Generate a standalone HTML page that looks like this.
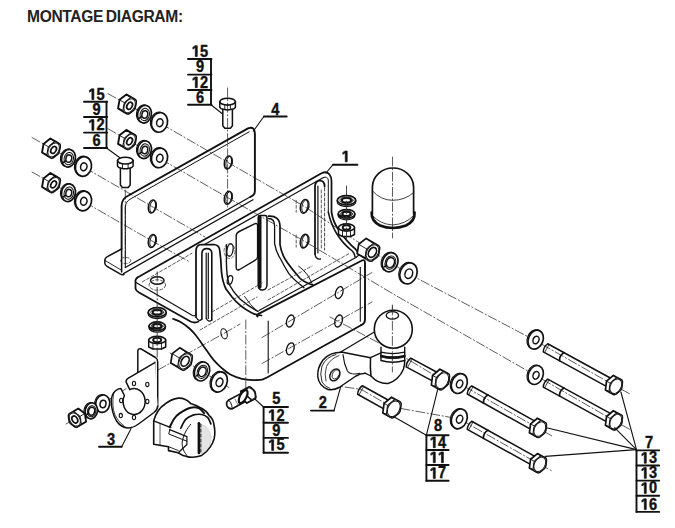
<!DOCTYPE html>
<html><head><meta charset="utf-8"><style>
html,body{margin:0;padding:0;background:#fff;}
body{width:675px;height:528px;overflow:hidden;position:relative;}
svg{position:absolute;left:0;top:0;}
svg text{font-family:"Liberation Sans",sans-serif;font-weight:bold;fill:#111;stroke:none;}
svg line,svg polyline,svg polygon,svg path,svg ellipse,svg circle{stroke:#111;stroke-linecap:round;stroke-linejoin:round;}
.dd{stroke:#333;stroke-dasharray:9 2.5 1.2 2.5;}
.hd{stroke:#333;stroke-dasharray:3 2;}
</style></head><body>
<svg width="675" height="528" viewBox="0 0 675 528">
<text x="27" y="22.1" font-size="15.6" style="fill:#222;letter-spacing:-0.35px;word-spacing:-1.2px">MONTAGE DIAGRAM:</text>
<polyline points="108,93.7 127.2,104.2 228,162.5 304.2,206.3 372.4,251.5 408.8,273.9 535.4,340.6 613.5,385 630,394" stroke-width="0.8" fill="none" class="dd"/>
<polyline points="108,128.8 127.2,139.7 228,197.8 304.2,241.1 395,295 535.7,375.5 613.5,420.3 630,429.5" stroke-width="0.8" fill="none" class="dd"/>
<polyline points="32,137.5 51.2,148.3 152,206.5 205,237" stroke-width="0.8" fill="none" class="dd"/>
<polyline points="32,172 51.2,182.8 152,241 190,262" stroke-width="0.8" fill="none" class="dd"/>
<polyline points="330,317 393,350.5 439.5,378.3 459.3,383.6 537.5,427.8 552,436" stroke-width="0.8" fill="none" class="dd"/>
<polyline points="330,385 361,389.3 391.3,406.8 459.3,418.9 537.5,463.1 552,471" stroke-width="0.8" fill="none" class="dd"/>
<polyline points="66,424 76.3,418 103,403.3 138.8,380.6 164.3,366.5 224,333.4 240,324" stroke-width="0.8" fill="none" class="dd"/>
<polyline points="170,353 185.1,361.3 219.2,381.8 229,387.5" stroke-width="0.8" fill="none" class="dd"/>
<polyline points="227.6,88 227.6,207" stroke-width="0.8" fill="none" class="dd"/>
<polyline points="125.3,190 125.3,265" stroke-width="0.8" fill="none" class="dd"/>
<polyline points="392.5,157 392.5,238" stroke-width="0.8" fill="none" class="dd"/>
<polyline points="392.4,305 392.4,372" stroke-width="0.8" fill="none" class="dd"/>
<polyline points="245.8,320 245.8,388" stroke-width="0.8" fill="none" class="dd"/>
<polyline points="262,337.5 372,272.5" stroke-width="0.8" fill="none" class="dd"/>
<polyline points="262,363.5 372,302" stroke-width="0.8" fill="none" class="dd"/>
<polygon points="118.05,108.41 119.53,99.83 126.35,94.41 134.73,99.38 135.25,99.69 135.69,100.13 135.94,100.76 136.12,101.45 136.1,102.26 135.95,103.09 135.68,104.67 135.26,107.09 135,107.94 134.56,108.74 134.07,109.51 133.45,110.15 131.53,111.67 130.27,112.67 129.61,113.2 128.91,113.61 128.22,113.78 127.54,113.87 126.95,113.69 125.93,113.09 123.39,111.58" stroke-width="1.9" fill="#fff"/>
<line x1="123.39" y1="111.58" x2="128.22" y2="113.78" stroke-width="0.9"/>
<line x1="130.21" y1="106.16" x2="134.56" y2="108.74" stroke-width="0.9"/>
<line x1="131.69" y1="97.57" x2="135.94" y2="100.76" stroke-width="0.9"/>
<line x1="126.35" y1="94.41" x2="130.98" y2="97.82" stroke-width="0.9"/>
<line x1="119.53" y1="99.83" x2="124.64" y2="102.86" stroke-width="0.9"/>
<line x1="118.05" y1="108.41" x2="123.26" y2="110.84" stroke-width="0.9"/>
<polygon points="125.45,112.8 125.93,113.09 126.43,113.38 126.95,113.69 127.54,113.87 128.22,113.78 128.91,113.61 129.61,113.2 130.27,112.67 130.91,112.17 131.53,111.67 132.15,111.18 132.78,110.68 133.45,110.15 134.07,109.51 134.56,108.74 135,107.94 135.26,107.09 135.41,106.25 135.54,105.45 135.68,104.67 135.81,103.89 135.95,103.09 136.1,102.26 136.12,101.45 135.94,100.76 135.69,100.13 135.25,99.69 134.73,99.38 134.24,99.09 133.75,98.8 133.27,98.51 132.77,98.22 132.25,97.91 131.66,97.73 130.98,97.82 130.29,97.99 129.59,98.4 128.93,98.93 128.29,99.43 127.67,99.93 127.05,100.42 126.42,100.92 125.75,101.45 125.13,102.09 124.64,102.86 124.2,103.66 123.94,104.51 123.79,105.35 123.66,106.15 123.52,106.93 123.39,107.71 123.25,108.51 123.1,109.34 123.08,110.15 123.26,110.84 123.51,111.47 123.95,111.91 124.47,112.22 124.96,112.51" stroke-width="1.1" fill="#fff"/>
<ellipse cx="129.6" cy="105.8" rx="4.96" ry="7.52" transform="rotate(30.67 129.6 105.8)" stroke-width="0.9" fill="none"/>
<ellipse cx="129.6" cy="105.8" rx="2.48" ry="3.76" transform="rotate(30.67 129.6 105.8)" stroke-width="1.7" fill="none"/>
<ellipse cx="143.4" cy="113.7" rx="6.9" ry="8.9" stroke-width="1.1" fill="#fff" transform="rotate(12 143.4 113.7)"/>
<ellipse cx="144.5" cy="114.2" rx="6.9" ry="8.9" stroke-width="1.7" fill="#fff" transform="rotate(12 144.5 114.2)"/>
<ellipse cx="144.8" cy="114.5" rx="2.9" ry="3.74" stroke-width="1.5" fill="none" transform="rotate(12 144.8 114.5)"/>
<ellipse cx="144.8" cy="114.5" rx="4.69" ry="6.23" stroke-width="1.0" fill="none" transform="rotate(12 144.8 114.5)"/>
<line x1="139.32" y1="118.2" x2="141.4" y2="116.87" stroke-width="1.6"/>
<ellipse cx="158.4" cy="121.9" rx="8" ry="9.9" stroke-width="1.1" fill="#fff" transform="rotate(12 158.4 121.9)"/>
<ellipse cx="159.5" cy="122.4" rx="8" ry="9.9" stroke-width="1.7" fill="#fff" transform="rotate(12 159.5 122.4)"/>
<ellipse cx="159.8" cy="122.7" rx="3.2" ry="3.96" stroke-width="1.5" fill="none" transform="rotate(12 159.8 122.7)"/>
<polygon points="118.05,143.91 119.53,135.33 126.35,129.91 131.69,133.07 134.73,134.88 135.25,135.19 135.69,135.63 135.94,136.26 136.12,136.95 136.1,137.76 135.95,138.59 135.68,140.17 135.26,142.59 135,143.44 134.56,144.24 134.07,145.01 133.45,145.65 132.15,146.68 130.91,147.67 129.61,148.7 128.91,149.11 128.22,149.28 127.54,149.37 126.95,149.19 125.93,148.59 123.95,147.41" stroke-width="1.9" fill="#fff"/>
<line x1="123.39" y1="147.08" x2="128.22" y2="149.28" stroke-width="0.9"/>
<line x1="130.21" y1="141.66" x2="134.56" y2="144.24" stroke-width="0.9"/>
<line x1="131.69" y1="133.07" x2="135.94" y2="136.26" stroke-width="0.9"/>
<line x1="126.35" y1="129.91" x2="130.98" y2="133.32" stroke-width="0.9"/>
<line x1="119.53" y1="135.33" x2="124.64" y2="138.36" stroke-width="0.9"/>
<line x1="118.05" y1="143.91" x2="123.26" y2="146.34" stroke-width="0.9"/>
<polygon points="125.45,148.3 125.93,148.59 126.43,148.88 126.95,149.19 127.54,149.37 128.22,149.28 128.91,149.11 129.61,148.7 130.27,148.17 130.91,147.67 131.53,147.17 132.15,146.68 132.78,146.18 133.45,145.65 134.07,145.01 134.56,144.24 135,143.44 135.26,142.59 135.41,141.75 135.54,140.95 135.68,140.17 135.81,139.39 135.95,138.59 136.1,137.76 136.12,136.95 135.94,136.26 135.69,135.63 135.25,135.19 134.73,134.88 134.24,134.59 133.75,134.3 133.27,134.01 132.77,133.72 132.25,133.41 131.66,133.23 130.98,133.32 130.29,133.49 129.59,133.9 128.93,134.43 128.29,134.93 127.67,135.43 127.05,135.92 126.42,136.42 125.75,136.95 125.13,137.59 124.64,138.36 124.2,139.16 123.94,140.01 123.79,140.85 123.66,141.65 123.52,142.43 123.39,143.21 123.25,144.01 123.1,144.84 123.08,145.65 123.26,146.34 123.51,146.97 123.95,147.41 124.47,147.72 124.96,148.01" stroke-width="1.1" fill="#fff"/>
<ellipse cx="129.6" cy="141.3" rx="4.96" ry="7.52" transform="rotate(30.67 129.6 141.3)" stroke-width="0.9" fill="none"/>
<ellipse cx="129.6" cy="141.3" rx="2.48" ry="3.76" transform="rotate(30.67 129.6 141.3)" stroke-width="1.7" fill="none"/>
<ellipse cx="143.4" cy="149.2" rx="6.9" ry="8.9" stroke-width="1.1" fill="#fff" transform="rotate(12 143.4 149.2)"/>
<ellipse cx="144.5" cy="149.7" rx="6.9" ry="8.9" stroke-width="1.7" fill="#fff" transform="rotate(12 144.5 149.7)"/>
<ellipse cx="144.8" cy="150" rx="2.9" ry="3.74" stroke-width="1.5" fill="none" transform="rotate(12 144.8 150)"/>
<ellipse cx="144.8" cy="150" rx="4.69" ry="6.23" stroke-width="1.0" fill="none" transform="rotate(12 144.8 150)"/>
<line x1="139.32" y1="153.7" x2="141.4" y2="152.37" stroke-width="1.6"/>
<ellipse cx="158.4" cy="157.4" rx="8" ry="9.9" stroke-width="1.1" fill="#fff" transform="rotate(12 158.4 157.4)"/>
<ellipse cx="159.5" cy="157.9" rx="8" ry="9.9" stroke-width="1.7" fill="#fff" transform="rotate(12 159.5 157.9)"/>
<ellipse cx="159.8" cy="158.2" rx="3.2" ry="3.96" stroke-width="1.5" fill="none" transform="rotate(12 159.8 158.2)"/>
<polygon points="42.05,152.51 43.53,143.93 50.35,138.51 55.69,141.67 59.25,143.79 59.69,144.23 59.94,144.86 60.12,145.55 60.1,146.36 59.95,147.19 59.54,149.55 59.26,151.19 59,152.04 58.56,152.84 58.07,153.61 57.45,154.25 56.15,155.28 54.91,156.27 53.61,157.3 52.91,157.71 52.22,157.88 51.54,157.97 50.95,157.79 49.93,157.19 48.47,156.32" stroke-width="1.9" fill="#fff"/>
<line x1="47.39" y1="155.68" x2="52.22" y2="157.88" stroke-width="0.9"/>
<line x1="54.21" y1="150.26" x2="58.56" y2="152.84" stroke-width="0.9"/>
<line x1="55.69" y1="141.67" x2="59.94" y2="144.86" stroke-width="0.9"/>
<line x1="50.35" y1="138.51" x2="54.98" y2="141.92" stroke-width="0.9"/>
<line x1="43.53" y1="143.93" x2="48.64" y2="146.96" stroke-width="0.9"/>
<line x1="42.05" y1="152.51" x2="47.26" y2="154.94" stroke-width="0.9"/>
<polygon points="49.45,156.9 49.93,157.19 50.43,157.48 50.95,157.79 51.54,157.97 52.22,157.88 52.91,157.71 53.61,157.3 54.27,156.77 54.91,156.27 55.53,155.77 56.15,155.28 56.78,154.78 57.45,154.25 58.07,153.61 58.56,152.84 59,152.04 59.26,151.19 59.41,150.35 59.54,149.55 59.68,148.77 59.81,147.99 59.95,147.19 60.1,146.36 60.12,145.55 59.94,144.86 59.69,144.23 59.25,143.79 58.73,143.48 58.24,143.19 57.75,142.9 57.27,142.61 56.77,142.32 56.25,142.01 55.66,141.83 54.98,141.92 54.29,142.09 53.59,142.5 52.93,143.03 52.29,143.53 51.67,144.03 51.05,144.52 50.42,145.02 49.75,145.55 49.13,146.19 48.64,146.96 48.2,147.76 47.94,148.61 47.79,149.45 47.66,150.25 47.52,151.03 47.39,151.81 47.25,152.61 47.1,153.44 47.08,154.25 47.26,154.94 47.51,155.57 47.95,156.01 48.47,156.32 48.96,156.61" stroke-width="1.1" fill="#fff"/>
<ellipse cx="53.6" cy="149.9" rx="4.96" ry="7.52" transform="rotate(30.67 53.6 149.9)" stroke-width="0.9" fill="none"/>
<ellipse cx="53.6" cy="149.9" rx="2.48" ry="3.76" transform="rotate(30.67 53.6 149.9)" stroke-width="1.7" fill="none"/>
<ellipse cx="67.4" cy="157.8" rx="6.9" ry="8.9" stroke-width="1.1" fill="#fff" transform="rotate(12 67.4 157.8)"/>
<ellipse cx="68.5" cy="158.3" rx="6.9" ry="8.9" stroke-width="1.7" fill="#fff" transform="rotate(12 68.5 158.3)"/>
<ellipse cx="68.8" cy="158.6" rx="2.9" ry="3.74" stroke-width="1.5" fill="none" transform="rotate(12 68.8 158.6)"/>
<ellipse cx="68.8" cy="158.6" rx="4.69" ry="6.23" stroke-width="1.0" fill="none" transform="rotate(12 68.8 158.6)"/>
<line x1="63.33" y1="162.31" x2="65.39" y2="160.97" stroke-width="1.6"/>
<ellipse cx="82.4" cy="166" rx="8" ry="9.9" stroke-width="1.1" fill="#fff" transform="rotate(12 82.4 166)"/>
<ellipse cx="83.5" cy="166.5" rx="8" ry="9.9" stroke-width="1.7" fill="#fff" transform="rotate(12 83.5 166.5)"/>
<ellipse cx="83.8" cy="166.8" rx="3.2" ry="3.96" stroke-width="1.5" fill="none" transform="rotate(12 83.8 166.8)"/>
<polygon points="42.05,187.01 43.53,178.43 50.35,173.01 55.69,176.17 59.25,178.29 59.69,178.73 59.94,179.36 60.12,180.05 60.1,180.86 59.95,181.69 59.54,184.05 59.26,185.69 59,186.54 58.56,187.34 58.07,188.11 57.45,188.75 56.15,189.78 54.91,190.77 53.61,191.8 52.91,192.21 52.22,192.38 51.54,192.47 50.95,192.29 49.93,191.69 48.47,190.82" stroke-width="1.9" fill="#fff"/>
<line x1="47.39" y1="190.18" x2="52.22" y2="192.38" stroke-width="0.9"/>
<line x1="54.21" y1="184.76" x2="58.56" y2="187.34" stroke-width="0.9"/>
<line x1="55.69" y1="176.17" x2="59.94" y2="179.36" stroke-width="0.9"/>
<line x1="50.35" y1="173.01" x2="54.98" y2="176.42" stroke-width="0.9"/>
<line x1="43.53" y1="178.43" x2="48.64" y2="181.46" stroke-width="0.9"/>
<line x1="42.05" y1="187.01" x2="47.26" y2="189.44" stroke-width="0.9"/>
<polygon points="49.45,191.4 49.93,191.69 50.43,191.98 50.95,192.29 51.54,192.47 52.22,192.38 52.91,192.21 53.61,191.8 54.27,191.27 54.91,190.77 55.53,190.27 56.15,189.78 56.78,189.28 57.45,188.75 58.07,188.11 58.56,187.34 59,186.54 59.26,185.69 59.41,184.85 59.54,184.05 59.68,183.27 59.81,182.49 59.95,181.69 60.1,180.86 60.12,180.05 59.94,179.36 59.69,178.73 59.25,178.29 58.73,177.98 58.24,177.69 57.75,177.4 57.27,177.11 56.77,176.82 56.25,176.51 55.66,176.33 54.98,176.42 54.29,176.59 53.59,177 52.93,177.53 52.29,178.03 51.67,178.53 51.05,179.02 50.42,179.52 49.75,180.05 49.13,180.69 48.64,181.46 48.2,182.26 47.94,183.11 47.79,183.95 47.66,184.75 47.52,185.53 47.39,186.31 47.25,187.11 47.1,187.94 47.08,188.75 47.26,189.44 47.51,190.07 47.95,190.51 48.47,190.82 48.96,191.11" stroke-width="1.1" fill="#fff"/>
<ellipse cx="53.6" cy="184.4" rx="4.96" ry="7.52" transform="rotate(30.67 53.6 184.4)" stroke-width="0.9" fill="none"/>
<ellipse cx="53.6" cy="184.4" rx="2.48" ry="3.76" transform="rotate(30.67 53.6 184.4)" stroke-width="1.7" fill="none"/>
<ellipse cx="67.4" cy="192.3" rx="6.9" ry="8.9" stroke-width="1.1" fill="#fff" transform="rotate(12 67.4 192.3)"/>
<ellipse cx="68.5" cy="192.8" rx="6.9" ry="8.9" stroke-width="1.7" fill="#fff" transform="rotate(12 68.5 192.8)"/>
<ellipse cx="68.8" cy="193.1" rx="2.9" ry="3.74" stroke-width="1.5" fill="none" transform="rotate(12 68.8 193.1)"/>
<ellipse cx="68.8" cy="193.1" rx="4.69" ry="6.23" stroke-width="1.0" fill="none" transform="rotate(12 68.8 193.1)"/>
<line x1="63.33" y1="196.81" x2="65.39" y2="195.47" stroke-width="1.6"/>
<ellipse cx="82.4" cy="200.5" rx="8" ry="9.9" stroke-width="1.1" fill="#fff" transform="rotate(12 82.4 200.5)"/>
<ellipse cx="83.5" cy="201" rx="8" ry="9.9" stroke-width="1.7" fill="#fff" transform="rotate(12 83.5 201)"/>
<ellipse cx="83.8" cy="201.3" rx="3.2" ry="3.96" stroke-width="1.5" fill="none" transform="rotate(12 83.8 201.3)"/>
<ellipse cx="125.3" cy="160.6" rx="7.8" ry="3.4" stroke-width="1.6" fill="none"/>
<path d="M117.5,160.6 L117.5,166.2 Q118.5,168.2 121.5,168.2 Q125.3,169.4 129.1,168.2 Q132.1,168.2 133.1,166.2 L133.1,160.6" stroke-width="1.5" fill="none"/>
<line x1="122.5" y1="163.8" x2="122.5" y2="168.2" stroke-width="0.9"/>
<line x1="128.1" y1="163.8" x2="128.1" y2="168.2" stroke-width="0.9"/>
<path d="M120.4,168.5 L120.4,185 L122.4,187.5 L128.2,187.5 L130.2,185 L130.2,168.5" stroke-width="1.5" fill="none"/>
<ellipse cx="227.6" cy="101.7" rx="7.8" ry="3.4" stroke-width="1.6" fill="none"/>
<path d="M219.8,101.7 L219.8,107.3 Q220.8,109.3 223.8,109.3 Q227.6,110.5 231.4,109.3 Q234.4,109.3 235.4,107.3 L235.4,101.7" stroke-width="1.5" fill="none"/>
<line x1="224.8" y1="104.9" x2="224.8" y2="109.3" stroke-width="0.9"/>
<line x1="230.4" y1="104.9" x2="230.4" y2="109.3" stroke-width="0.9"/>
<path d="M222.8,109.6 L222.8,125.7 L224.8,128.2 L230.4,128.2 L232.4,125.7 L232.4,109.6" stroke-width="1.5" fill="none"/>
<path d="M121.6,249 L121.6,206 Q121.6,198.5 128.5,195.5 L248,128.3 Q254.9,126 254.9,133.5 L254.9,191 Q254.9,195 250.5,196.8" stroke-width="1.9" fill="none"/>
<path d="M125.3,267.5 L125.3,207.5 Q125.3,201.5 131,198.7 L249.2,131.8" stroke-width="1.0" fill="none"/>
<line x1="250.5" y1="196.8" x2="125.3" y2="267.5" stroke-width="1.3"/>
<line x1="253" y1="199.8" x2="123.5" y2="273.6" stroke-width="1.3"/>
<path d="M121.6,249 L107,256.8 Q104.8,258 104.8,260.5 L104.8,263 Q104.8,265 107,266.3 L120.5,274.2 Q122.5,275.2 124,274.3" stroke-width="1.5" fill="none"/>
<line x1="104.8" y1="260.3" x2="121.6" y2="270.3" stroke-width="0.9"/>
<line x1="121.6" y1="249" x2="121.6" y2="272" stroke-width="1.5"/>
<ellipse cx="125.6" cy="260.5" rx="5.2" ry="3.2" stroke-width="0.8" fill="none" class="hd"/>
<ellipse cx="152" cy="206.5" rx="3.6" ry="6.6" stroke-width="1.4" fill="none" transform="rotate(12 152 206.5)"/>
<ellipse cx="153.2" cy="206.5" rx="3.2" ry="6.3" stroke-width="0.9" fill="none" transform="rotate(12 153.2 206.5)"/>
<ellipse cx="152" cy="241" rx="3.6" ry="6.6" stroke-width="1.4" fill="none" transform="rotate(12 152 241)"/>
<ellipse cx="153.2" cy="241" rx="3.2" ry="6.3" stroke-width="0.9" fill="none" transform="rotate(12 153.2 241)"/>
<ellipse cx="228" cy="162.5" rx="3.6" ry="6.6" stroke-width="1.4" fill="none" transform="rotate(12 228 162.5)"/>
<ellipse cx="229.2" cy="162.5" rx="3.2" ry="6.3" stroke-width="0.9" fill="none" transform="rotate(12 229.2 162.5)"/>
<ellipse cx="228" cy="197.8" rx="3.6" ry="6.6" stroke-width="1.4" fill="none" transform="rotate(12 228 197.8)"/>
<ellipse cx="229.2" cy="197.8" rx="3.2" ry="6.3" stroke-width="0.9" fill="none" transform="rotate(12 229.2 197.8)"/>
<path d="M137.5,277.5 L321.5,173.2 Q327,170.8 329.5,174.5 Q331.5,177 331.5,181 L331.5,212 Q333,222 338.7,230 Q347,242 355.4,249 Q358,252 359.6,255" stroke-width="1.75" fill="none"/>
<line x1="205" y1="244.2" x2="323.5" y2="177.5" stroke-width="1.2"/>
<path d="M323.5,177.5 Q327.5,176 328.3,180 L328.3,212" stroke-width="1.0" fill="none"/>
<path d="M137.5,277.5 Q134.8,279.5 135.5,282.5 L135.5,288.5 Q136,291 139,292.5 L190.5,321.5 Q195,323.5 198.5,321.5" stroke-width="1.75" fill="none"/>
<path d="M136,282.5 L192.5,315.5 Q195.5,317 196,313" stroke-width="1.2" fill="none"/>
<ellipse cx="157.3" cy="280.5" rx="6.8" ry="3.7" stroke-width="1.4" fill="none"/>
<ellipse cx="157.3" cy="285" rx="8.2" ry="5.2" stroke-width="0.8" fill="none" class="hd"/>
<path d="M196,317 L196,251 Q196,244.8 201.5,244.5 L214,244.5 Q219.6,245 219.8,251 L220.7,259 L221.5,272 Q222.5,282 226,289 L232,297 Q240,307 252,313 Q256,315 261.5,315.5" stroke-width="1.75" fill="none"/>
<path d="M201.9,319 L201.9,253.5 Q201.9,248.6 206.8,248.6 Q211.8,248.6 211.8,253.5 L211.8,320" stroke-width="1.6" fill="none"/>
<line x1="206.2" y1="253" x2="206.2" y2="318.5" stroke-width="1.2"/>
<line x1="208.3" y1="253" x2="208.3" y2="318.5" stroke-width="1.2"/>
<path d="M206.2,318.5 Q209,323 211.8,320" stroke-width="1.2" fill="none"/>
<path d="M196,317 Q199,322.5 201.9,319" stroke-width="1.3" fill="none"/>
<path d="M226.4,244.8 L226.4,262 Q226.6,276 229,284 Q233,292 240,299 Q248,306 258,311.5" stroke-width="1.4" fill="none"/>
<path d="M244.5,296.4 Q250,305 258,311.8" stroke-width="0.9" fill="none"/>
<ellipse cx="230" cy="250" rx="3" ry="6.3" stroke-width="1.3" fill="none" transform="rotate(10 230 250)"/>
<ellipse cx="229.5" cy="251" rx="5.5" ry="7.5" stroke-width="0.7" fill="none" class="hd"/>
<ellipse cx="229.9" cy="280" rx="2.6" ry="4.5" stroke-width="1.2" fill="none" transform="rotate(15 229.9 280)"/>
<path d="M236.2,236 Q236.2,233 239.2,231.5 L254.5,223.8 Q257.6,222.6 257.6,226 L257.6,257 Q257.6,259 255,260.3 L239.5,269.5 Q236.2,271 236.2,267.5 Z" stroke-width="1.4" fill="none"/>
<path d="M258.2,285 L258.2,218 Q258.2,215.6 260.5,215.6 L265,215.6 Q267,215.6 267,218 L267,285 Q266.5,290 262.5,290 Q258.2,290 258.2,285" stroke-width="1.5" fill="none"/>
<line x1="259.9" y1="217" x2="259.9" y2="287" stroke-width="3.2"/>
<path d="M268.5,216.2 Q279.7,215.5 280,226 L280,244.5 Q281,252 285,259 Q290,267 300.4,278.7 Q305,283 313,285" stroke-width="1.7" fill="none"/>
<path d="M268.5,218.5 Q274.6,218.5 274.6,226 L274.6,243.7 Q276,252 280.6,259 Q284,266 288.7,273.3 Q293,279 304,287.7" stroke-width="1.3" fill="none"/>
<path d="M298.6,266.1 Q304,270 307.6,275.1 Q310,279 312,283.2" stroke-width="1.0" fill="none"/>
<path d="M315,254 L315,187 Q315,180.5 320,180.5 Q324.6,180.5 324.6,186.5" stroke-width="1.75" fill="none"/>
<line x1="317.9" y1="186" x2="317.9" y2="253" stroke-width="1.2"/>
<path d="M315,254 Q315.5,259.5 320.5,259" stroke-width="1.3" fill="none"/>
<line x1="321.3" y1="190" x2="321.3" y2="250" stroke-width="0.8" class="hd"/>
<line x1="324.6" y1="188" x2="324.6" y2="250" stroke-width="0.9" class="hd"/>
<path d="M328.3,212 Q330.5,223 336.3,233 Q343,244 352.3,251 Q354.5,253 355,257" stroke-width="1.5" fill="none"/>
<path d="M257.5,316.5 Q256,315 258.5,313.8 L361,261 Q365,258.5 365,263 L365,319.5 Q365,323.5 361,325.2" stroke-width="1.9" fill="none"/>
<line x1="259" y1="310.5" x2="356.3" y2="257.2" stroke-width="1.2"/>
<path d="M356.3,257.2 Q358.5,255.5 359.6,253.5" stroke-width="1.2" fill="none"/>
<line x1="360.3" y1="267.2" x2="360.3" y2="321.2" stroke-width="1.1"/>
<path d="M361,325.2 L266.5,377.8 Q262,380.5 256.5,380.2" stroke-width="1.75" fill="none"/>
<path d="M173,318.8 C174.33,319.38 178.17,320.6 181,322.3 C183.83,324 187.47,326.75 190,329 C192.53,331.25 193.75,332.68 196.2,335.8 C198.65,338.92 201.85,343.73 204.7,347.7 C207.55,351.67 210.45,356.2 213.3,359.6 C216.15,363 218.97,365.62 221.8,368.1 C224.63,370.58 226.93,372.72 230.3,374.5 C233.67,376.28 237.63,377.85 242,378.8 C246.37,379.75 254.08,379.97 256.5,380.2" stroke-width="1.75" fill="none"/>
<line x1="268.2" y1="321" x2="268.2" y2="373" stroke-width="1.1"/>
<ellipse cx="339.2" cy="292.6" rx="3.6" ry="6.2" stroke-width="1.3" fill="none" transform="rotate(18 339.2 292.6)"/>
<ellipse cx="290.3" cy="321" rx="3.6" ry="6.2" stroke-width="1.3" fill="none" transform="rotate(18 290.3 321)"/>
<ellipse cx="338.6" cy="321" rx="3.6" ry="6.2" stroke-width="1.3" fill="none" transform="rotate(18 338.6 321)"/>
<ellipse cx="290.3" cy="348.8" rx="3.6" ry="6.2" stroke-width="1.3" fill="none" transform="rotate(18 290.3 348.8)"/>
<ellipse cx="224.1" cy="333.8" rx="3" ry="5.2" stroke-width="1.1" fill="none" transform="rotate(-15 224.1 333.8)"/>
<ellipse cx="304.2" cy="206.3" rx="3.8" ry="7" stroke-width="1.4" fill="none" transform="rotate(12 304.2 206.3)"/>
<ellipse cx="305.5" cy="206.3" rx="3.5" ry="6.7" stroke-width="0.9" fill="none" transform="rotate(12 305.5 206.3)"/>
<path d="M296.2,200.3 L296.2,212.3" stroke-width="0.8" fill="none" class="hd"/>
<ellipse cx="304.2" cy="241.1" rx="3.8" ry="7" stroke-width="1.4" fill="none" transform="rotate(12 304.2 241.1)"/>
<ellipse cx="305.5" cy="241.1" rx="3.5" ry="6.7" stroke-width="0.9" fill="none" transform="rotate(12 305.5 241.1)"/>
<path d="M296.2,235.1 L296.2,247.1" stroke-width="0.8" fill="none" class="hd"/>
<line x1="142.4" y1="281.9" x2="192" y2="253.2" stroke-width="0.8" class="hd"/>
<line x1="200" y1="330" x2="257" y2="297" stroke-width="0.8" class="hd"/>
<line x1="212" y1="312" x2="262" y2="283" stroke-width="0.8" class="hd"/>
<line x1="268" y1="290" x2="312" y2="266" stroke-width="0.8" class="hd"/>
<line x1="268" y1="300" x2="350" y2="253" stroke-width="0.8" class="hd"/>
<line x1="339.4" y1="352.7" x2="376" y2="331" stroke-width="1.3"/>
<path d="M342.5,352.3 Q330,352 323,360 Q317,368 317.8,377 Q319,386 328,389.5 Q334,390.5 339,387.5 L356,376 Q360,373.5 365,373.2" stroke-width="1.5" fill="#fff"/>
<path d="M336,354.5 Q326,357 322,366 Q319.5,374 322,382 Q325,387 330,388.5" stroke-width="0.9" fill="none"/>
<path d="M339,355.5 Q330,359 326.5,366.5 Q324,374 326,381" stroke-width="0.8" fill="none"/>
<path d="M343,354.6 Q344,364 347.4,371 Q351,375.5 359.9,373.3" stroke-width="1.1" fill="none"/>
<ellipse cx="334.9" cy="374.9" rx="4.6" ry="6.4" stroke-width="1.4" fill="none" transform="rotate(30 334.9 374.9)"/>
<ellipse cx="335.8" cy="374.4" rx="3.2" ry="5" stroke-width="0.8" fill="none" transform="rotate(30 335.8 374.4)"/>
<path d="M342.5,352.3 L370.5,357.7" stroke-width="1.6" fill="none"/>
<path d="M370.5,357.7 Q370,368 371,376 Q378,384 388,383.5 Q399,380 403.5,369 Q405,364 404.7,360" stroke-width="1.5" fill="#fff"/>
<line x1="365" y1="373.2" x2="371" y2="376" stroke-width="1.3"/>
<path d="M381,347.3 L381,360.5 Q392.5,364 404.7,360.5 L404.7,347.3" stroke-width="1.4" fill="#fff"/>
<path d="M381,352.1 Q392.5,355 404.7,352.1" stroke-width="1.3" fill="none"/>
<path d="M381,355.9 Q392.5,359 404.7,355.9" stroke-width="2.2" fill="none"/>
<path d="M381,357 Q392.5,360.5 404.7,357" stroke-width="0.9" fill="none"/>
<line x1="370.5" y1="357.7" x2="381" y2="352.8" stroke-width="1.4"/>
<circle cx="393.3" cy="329.2" r="19" stroke-width="1.6" fill="#fff"/>
<ellipse cx="392.4" cy="315.4" rx="6.2" ry="3.7" stroke-width="1.3" fill="none"/>
<polyline points="392.4,306 392.4,372" stroke-width="0.8" fill="none" class="dd"/>
<circle cx="392.4" cy="357.5" r="1.3" fill="#111" style="stroke:none"/>
<path d="M372.4,214 L372.4,187 A20.6,19 0 0 1 413.6,187 L413.6,214" stroke-width="1.7" fill="none"/>
<path d="M372.4,190.9 Q381,200.3 392.5,200.3 Q405,200.3 413.6,192.6" stroke-width="0.8" fill="none"/>
<path d="M371.6,212.5 Q371.2,221 380,225.5 Q392.5,230.5 406,225.5 Q415.2,221 414.6,212.5" stroke-width="2.6" fill="none"/>
<path d="M373,216 Q380,224 392.5,225 Q406,224 413,216" stroke-width="0.8" fill="none"/>
<path d="M148.2,312.3 L148.2,313.9 A9,4.6 0 0 0 166.2,313.9 L166.2,312.3" stroke-width="1.3" fill="#fff"/>
<ellipse cx="157.2" cy="312.3" rx="9" ry="4.6" stroke-width="1.7" fill="#fff"/>
<ellipse cx="157.2" cy="312.3" rx="4.5" ry="2.3" stroke-width="2.0" fill="none"/>
<ellipse cx="157.2" cy="312.3" rx="6.48" ry="3.31" stroke-width="0.8" fill="none"/>
<path d="M149,326.2 L149,327.8 A8.2,4.3 0 0 0 165.4,327.8 L165.4,326.2" stroke-width="1.3" fill="#fff"/>
<ellipse cx="157.2" cy="326.2" rx="8.2" ry="4.3" stroke-width="1.7" fill="#fff"/>
<ellipse cx="157.2" cy="326.2" rx="4.1" ry="2.15" stroke-width="2.0" fill="none"/>
<ellipse cx="157.2" cy="326.2" rx="5.9" ry="3.1" stroke-width="0.8" fill="none"/>
<line x1="150.23" y1="327.49" x2="152.69" y2="328.78" stroke-width="1.6"/>
<path d="M148.7,340 L148.7,347 L152.95,349 L161.45,349 L165.7,347 L165.7,340" stroke-width="1.5" fill="#fff"/>
<line x1="152.95" y1="342.52" x2="152.95" y2="349" stroke-width="0.9"/>
<line x1="161.45" y1="342.52" x2="161.45" y2="349" stroke-width="0.9"/>
<ellipse cx="157.2" cy="340" rx="8.5" ry="3.6" stroke-width="1.6" fill="#fff"/>
<ellipse cx="157.2" cy="340" rx="4.08" ry="2.16" stroke-width="1.9" fill="none"/>
<path d="M337.3,200.3 L337.3,201.9 A9.2,4.6 0 0 0 355.7,201.9 L355.7,200.3" stroke-width="1.3" fill="#fff"/>
<ellipse cx="346.5" cy="200.3" rx="9.2" ry="4.6" stroke-width="1.7" fill="#fff"/>
<ellipse cx="346.5" cy="200.3" rx="4.6" ry="2.3" stroke-width="2.0" fill="none"/>
<ellipse cx="346.5" cy="200.3" rx="6.62" ry="3.31" stroke-width="0.8" fill="none"/>
<path d="M338.2,213.9 L338.2,215.5 A8.3,4.3 0 0 0 354.8,215.5 L354.8,213.9" stroke-width="1.3" fill="#fff"/>
<ellipse cx="346.5" cy="213.9" rx="8.3" ry="4.3" stroke-width="1.7" fill="#fff"/>
<ellipse cx="346.5" cy="213.9" rx="4.15" ry="2.15" stroke-width="2.0" fill="none"/>
<ellipse cx="346.5" cy="213.9" rx="5.98" ry="3.1" stroke-width="0.8" fill="none"/>
<line x1="339.44" y1="215.19" x2="341.94" y2="216.48" stroke-width="1.6"/>
<path d="M338.5,227.5 L338.5,234.5 L342.5,236.5 L350.5,236.5 L354.5,234.5 L354.5,227.5" stroke-width="1.5" fill="#fff"/>
<line x1="342.5" y1="230.02" x2="342.5" y2="236.5" stroke-width="0.9"/>
<line x1="350.5" y1="230.02" x2="350.5" y2="236.5" stroke-width="0.9"/>
<ellipse cx="346.5" cy="227.5" rx="8" ry="3.6" stroke-width="1.6" fill="#fff"/>
<ellipse cx="346.5" cy="227.5" rx="3.84" ry="2.16" stroke-width="1.9" fill="none"/>
<polyline points="157.2,272 157.2,362" stroke-width="0.9" fill="none" class="dd"/>
<polyline points="346.5,186 346.5,240" stroke-width="0.9" fill="none" class="dd"/>
<polygon points="357.17,253.64 358.69,244.27 366.18,238.44 372.15,241.98 375.23,243.81 378,245.45 378.58,245.8 379.08,246.28 379.36,246.98 379.58,247.73 379.56,248.62 379.41,249.53 378.99,252.11 378.7,253.89 378.42,254.82 377.95,255.69 377.41,256.53 376.73,257.21 374.62,258.85 373.24,259.93 372.51,260.49 371.75,260.93 370.98,261.11 370.24,261.19 369.57,260.99 368.99,260.65 368.44,260.32 363.14,257.18" stroke-width="1.7" fill="#fff"/>
<line x1="363.14" y1="257.18" x2="370.98" y2="261.11" stroke-width="0.9"/>
<line x1="370.62" y1="251.35" x2="377.95" y2="255.69" stroke-width="0.9"/>
<line x1="372.15" y1="241.98" x2="379.36" y2="246.98" stroke-width="0.9"/>
<line x1="366.18" y1="238.44" x2="373.82" y2="243.69" stroke-width="0.9"/>
<line x1="358.69" y1="244.27" x2="366.85" y2="249.11" stroke-width="0.9"/>
<line x1="357.17" y1="253.64" x2="365.44" y2="257.82" stroke-width="0.9"/>
<polygon points="367.89,260 368.44,260.32 368.99,260.65 369.57,260.99 370.24,261.19 370.98,261.11 371.75,260.93 372.51,260.49 373.24,259.93 373.94,259.38 374.62,258.85 375.3,258.32 376,257.78 376.73,257.21 377.41,256.53 377.95,255.69 378.42,254.82 378.7,253.89 378.85,252.98 378.99,252.11 379.13,251.25 379.27,250.4 379.41,249.53 379.56,248.62 379.58,247.73 379.36,246.98 379.08,246.28 378.58,245.8 378,245.45 377.45,245.12 376.91,244.8 376.36,244.48 375.81,244.15 375.23,243.81 374.56,243.61 373.82,243.69 373.05,243.87 372.29,244.31 371.56,244.87 370.86,245.42 370.18,245.95 369.5,246.48 368.8,247.02 368.07,247.59 367.39,248.27 366.85,249.11 366.38,249.98 366.1,250.91 365.95,251.82 365.81,252.69 365.67,253.55 365.53,254.4 365.39,255.27 365.24,256.18 365.22,257.07 365.44,257.82 365.72,258.52 366.22,259 366.8,259.35 367.35,259.68" stroke-width="1.1" fill="#fff"/>
<ellipse cx="372.4" cy="252.4" rx="5.55" ry="8.16" transform="rotate(30.67 372.4 252.4)" stroke-width="0.9" fill="none"/>
<ellipse cx="372.4" cy="252.4" rx="3.61" ry="5.3" transform="rotate(30.67 372.4 252.4)" stroke-width="1.7" fill="none"/>
<ellipse cx="389" cy="261.8" rx="7.6" ry="9.8" stroke-width="1.1" fill="#fff" transform="rotate(20 389 261.8)"/>
<ellipse cx="390.1" cy="262.3" rx="7.6" ry="9.8" stroke-width="1.7" fill="#fff" transform="rotate(20 390.1 262.3)"/>
<ellipse cx="390.4" cy="262.6" rx="3.95" ry="5.1" stroke-width="1.5" fill="none" transform="rotate(20 390.4 262.6)"/>
<ellipse cx="390.4" cy="262.6" rx="5.17" ry="6.86" stroke-width="1.0" fill="none" transform="rotate(20 390.4 262.6)"/>
<line x1="384.4" y1="266.71" x2="386.68" y2="265.24" stroke-width="1.6"/>
<ellipse cx="407.4" cy="272.9" rx="8.4" ry="10.8" stroke-width="1.1" fill="#fff" transform="rotate(20 407.4 272.9)"/>
<ellipse cx="408.5" cy="273.4" rx="8.4" ry="10.8" stroke-width="1.7" fill="#fff" transform="rotate(20 408.5 273.4)"/>
<ellipse cx="408.8" cy="273.7" rx="3.78" ry="4.86" stroke-width="1.5" fill="none" transform="rotate(20 408.8 273.7)"/>
<ellipse cx="534.6" cy="339.2" rx="7.3" ry="9.8" stroke-width="1.1" fill="#fff" transform="rotate(22 534.6 339.2)"/>
<ellipse cx="535.7" cy="339.7" rx="7.3" ry="9.8" stroke-width="1.7" fill="#fff" transform="rotate(22 535.7 339.7)"/>
<ellipse cx="536" cy="340" rx="2.92" ry="3.92" stroke-width="1.5" fill="none" transform="rotate(22 536 340)"/>
<ellipse cx="534.6" cy="374.5" rx="7.3" ry="9.8" stroke-width="1.1" fill="#fff" transform="rotate(22 534.6 374.5)"/>
<ellipse cx="535.7" cy="375" rx="7.3" ry="9.8" stroke-width="1.7" fill="#fff" transform="rotate(22 535.7 375)"/>
<ellipse cx="536" cy="375.3" rx="2.92" ry="3.92" stroke-width="1.5" fill="none" transform="rotate(22 536 375.3)"/>
<ellipse cx="458.2" cy="383.1" rx="7.6" ry="10.2" stroke-width="1.1" fill="#fff" transform="rotate(22 458.2 383.1)"/>
<ellipse cx="459.3" cy="383.6" rx="7.6" ry="10.2" stroke-width="1.7" fill="#fff" transform="rotate(22 459.3 383.6)"/>
<ellipse cx="459.6" cy="383.9" rx="3.04" ry="4.08" stroke-width="1.5" fill="none" transform="rotate(22 459.6 383.9)"/>
<ellipse cx="458.2" cy="418.4" rx="7.6" ry="10.2" stroke-width="1.1" fill="#fff" transform="rotate(22 458.2 418.4)"/>
<ellipse cx="459.3" cy="418.9" rx="7.6" ry="10.2" stroke-width="1.7" fill="#fff" transform="rotate(22 459.3 418.9)"/>
<ellipse cx="459.6" cy="419.2" rx="3.04" ry="4.08" stroke-width="1.5" fill="none" transform="rotate(22 459.6 419.2)"/>
<path d="M609.1,387.84 L543.29,351.84 Q543.57,346.74 547.71,343.76 L613.51,379.76" stroke-width="1.5" fill="none"/>
<line x1="544.61" y1="352.56" x2="549.02" y2="344.48" stroke-width="0.8"/>
<path d="M559.52,360.71 Q559.27,355.34 563.94,352.64" stroke-width="1.7" fill="none"/>
<polygon points="605.42,390.06 606.54,381.2 613.4,375.47 619.25,378.67 621.38,379.84 621.86,380.28 622.15,380.92 622.38,381.62 622.39,382.46 621.97,385.76 621.75,387.44 621.53,388.33 621.11,389.16 620.63,389.96 620.01,390.63 616.82,393.3 616.15,393.86 615.45,394.3 614.73,394.49 614.03,394.59 613.4,394.42 612.85,394.12 612.31,393.83 610.18,392.66" stroke-width="1.7" fill="#fff"/>
<line x1="611.15" y1="393.19" x2="614.73" y2="394.49" stroke-width="0.9"/>
<line x1="618" y1="387.46" x2="621.11" y2="389.16" stroke-width="0.9"/>
<line x1="619.13" y1="378.6" x2="622.15" y2="380.92" stroke-width="0.9"/>
<line x1="613.4" y1="375.47" x2="616.83" y2="378.01" stroke-width="0.9"/>
<line x1="606.54" y1="381.2" x2="610.45" y2="383.33" stroke-width="0.9"/>
<line x1="605.42" y1="390.06" x2="609.41" y2="391.57" stroke-width="0.9"/>
<polygon points="611.79,393.54 612.31,393.83 612.85,394.12 613.4,394.42 614.03,394.59 614.73,394.49 615.45,394.3 616.15,393.86 616.82,393.3 617.46,392.77 618.08,392.24 618.71,391.72 619.34,391.19 620.01,390.63 620.63,389.96 621.11,389.16 621.53,388.33 621.75,387.44 621.86,386.58 621.97,385.76 622.07,384.95 622.17,384.14 622.28,383.32 622.39,382.46 622.38,381.62 622.15,380.92 621.86,380.28 621.38,379.84 620.83,379.53 620.29,379.24 619.77,378.95 619.25,378.67 618.72,378.38 618.16,378.07 617.53,377.91 616.83,378.01 616.12,378.2 615.41,378.64 614.74,379.2 614.1,379.73 613.48,380.25 612.86,380.77 612.22,381.31 611.55,381.86 610.93,382.53 610.45,383.33 610.04,384.17 609.81,385.05 609.7,385.91 609.59,386.74 609.49,387.54 609.39,388.35 609.28,389.18 609.17,390.04 609.18,390.87 609.41,391.57 609.7,392.22 610.18,392.66 610.74,392.96 611.27,393.26" stroke-width="1.1" fill="#fff"/>
<ellipse cx="615.78" cy="386.25" rx="5.22" ry="7.68" transform="rotate(28.68 615.78 386.25)" stroke-width="0.9" fill="none"/>
<path d="M609.1,423.14 L543.29,387.14 Q543.57,382.04 547.71,379.06 L613.51,415.06" stroke-width="1.5" fill="none"/>
<line x1="544.61" y1="387.86" x2="549.02" y2="379.78" stroke-width="0.8"/>
<path d="M559.52,396.01 Q559.27,390.64 563.94,387.94" stroke-width="1.7" fill="none"/>
<polygon points="605.42,425.36 606.54,416.5 613.4,410.77 619.25,413.97 621.38,415.14 621.86,415.58 622.15,416.22 622.38,416.92 622.39,417.76 621.97,421.06 621.75,422.74 621.53,423.63 621.11,424.46 620.63,425.26 620.01,425.93 616.82,428.6 616.15,429.16 615.45,429.6 614.73,429.79 614.03,429.89 613.4,429.72 612.85,429.42 612.31,429.13 610.18,427.96" stroke-width="1.7" fill="#fff"/>
<line x1="611.15" y1="428.49" x2="614.73" y2="429.79" stroke-width="0.9"/>
<line x1="618" y1="422.76" x2="621.11" y2="424.46" stroke-width="0.9"/>
<line x1="619.13" y1="413.9" x2="622.15" y2="416.22" stroke-width="0.9"/>
<line x1="613.4" y1="410.77" x2="616.83" y2="413.31" stroke-width="0.9"/>
<line x1="606.54" y1="416.5" x2="610.45" y2="418.63" stroke-width="0.9"/>
<line x1="605.42" y1="425.36" x2="609.41" y2="426.87" stroke-width="0.9"/>
<polygon points="611.79,428.84 612.31,429.13 612.85,429.42 613.4,429.72 614.03,429.89 614.73,429.79 615.45,429.6 616.15,429.16 616.82,428.6 617.46,428.07 618.08,427.54 618.71,427.02 619.34,426.49 620.01,425.93 620.63,425.26 621.11,424.46 621.53,423.63 621.75,422.74 621.86,421.88 621.97,421.06 622.07,420.25 622.17,419.44 622.28,418.62 622.39,417.76 622.38,416.92 622.15,416.22 621.86,415.58 621.38,415.14 620.83,414.83 620.29,414.54 619.77,414.25 619.25,413.97 618.72,413.68 618.16,413.37 617.53,413.21 616.83,413.31 616.12,413.5 615.41,413.94 614.74,414.5 614.1,415.03 613.48,415.55 612.86,416.07 612.22,416.61 611.55,417.16 610.93,417.83 610.45,418.63 610.04,419.47 609.81,420.35 609.7,421.21 609.59,422.04 609.49,422.84 609.39,423.65 609.28,424.48 609.17,425.34 609.18,426.17 609.41,426.87 609.7,427.52 610.18,427.96 610.74,428.26 611.27,428.56" stroke-width="1.1" fill="#fff"/>
<ellipse cx="615.78" cy="421.55" rx="5.22" ry="7.68" transform="rotate(28.68 615.78 421.55)" stroke-width="0.9" fill="none"/>
<path d="M533.08,430.61 L467.27,394.02 Q467.58,388.93 471.73,385.98 L537.55,422.56" stroke-width="1.5" fill="none"/>
<line x1="468.58" y1="394.75" x2="473.05" y2="386.71" stroke-width="0.8"/>
<path d="M483.43,403.01 Q483.22,397.63 487.9,394.97" stroke-width="1.7" fill="none"/>
<polygon points="529.38,432.8 530.57,423.95 537.46,418.27 543.17,421.44 545.42,422.69 545.89,423.13 546.18,423.78 546.4,424.48 546.41,425.32 546.29,426.18 545.74,430.3 545.5,431.18 545.08,432.01 544.6,432.81 543.97,433.48 543.3,434.03 540.09,436.67 539.38,437.11 538.67,437.3 537.97,437.39 537.34,437.22 536.78,436.91 534.13,435.44" stroke-width="1.7" fill="#fff"/>
<line x1="535.09" y1="435.97" x2="538.67" y2="437.3" stroke-width="0.9"/>
<line x1="541.98" y1="430.29" x2="545.08" y2="432.01" stroke-width="0.9"/>
<line x1="543.17" y1="421.44" x2="546.18" y2="423.78" stroke-width="0.9"/>
<line x1="537.46" y1="418.27" x2="540.88" y2="420.83" stroke-width="0.9"/>
<line x1="530.57" y1="423.95" x2="534.47" y2="426.11" stroke-width="0.9"/>
<line x1="529.38" y1="432.8" x2="533.36" y2="434.35" stroke-width="0.9"/>
<polygon points="535.73,436.33 536.25,436.62 536.78,436.91 537.34,437.22 537.97,437.39 538.67,437.3 539.38,437.11 540.09,436.67 540.76,436.12 541.4,435.59 542.03,435.08 542.66,434.56 543.3,434.03 543.97,433.48 544.6,432.81 545.08,432.01 545.5,431.18 545.74,430.3 545.85,429.44 545.96,428.61 546.07,427.81 546.18,427 546.29,426.18 546.41,425.32 546.4,424.48 546.18,423.78 545.89,423.13 545.42,422.69 544.86,422.38 544.33,422.09 543.81,421.8 543.29,421.51 542.76,421.21 542.21,420.9 541.58,420.73 540.88,420.83 540.16,421.02 539.45,421.45 538.78,422.01 538.14,422.53 537.51,423.05 536.89,423.57 536.24,424.1 535.57,424.65 534.95,425.31 534.47,426.11 534.04,426.95 533.81,427.83 533.69,428.69 533.58,429.51 533.47,430.32 533.37,431.12 533.26,431.95 533.14,432.81 533.14,433.64 533.36,434.35 533.65,434.99 534.13,435.44 534.68,435.75 535.21,436.04" stroke-width="1.1" fill="#fff"/>
<ellipse cx="539.77" cy="429.06" rx="5.22" ry="7.68" transform="rotate(29.07 539.77 429.06)" stroke-width="0.9" fill="none"/>
<path d="M533.08,465.91 L467.27,429.32 Q467.58,424.23 471.73,421.28 L537.55,457.86" stroke-width="1.5" fill="none"/>
<line x1="468.58" y1="430.05" x2="473.05" y2="422.01" stroke-width="0.8"/>
<path d="M483.43,438.31 Q483.22,432.93 487.9,430.27" stroke-width="1.7" fill="none"/>
<polygon points="529.38,468.1 530.57,459.25 537.46,453.57 543.17,456.74 545.42,457.99 545.89,458.43 546.18,459.08 546.4,459.78 546.41,460.62 546.29,461.48 545.74,465.6 545.5,466.48 545.08,467.31 544.6,468.11 543.97,468.78 543.3,469.33 540.09,471.97 539.38,472.41 538.67,472.6 537.97,472.69 537.34,472.52 536.78,472.21 534.13,470.74" stroke-width="1.7" fill="#fff"/>
<line x1="535.09" y1="471.27" x2="538.67" y2="472.6" stroke-width="0.9"/>
<line x1="541.98" y1="465.59" x2="545.08" y2="467.31" stroke-width="0.9"/>
<line x1="543.17" y1="456.74" x2="546.18" y2="459.08" stroke-width="0.9"/>
<line x1="537.46" y1="453.57" x2="540.88" y2="456.13" stroke-width="0.9"/>
<line x1="530.57" y1="459.25" x2="534.47" y2="461.41" stroke-width="0.9"/>
<line x1="529.38" y1="468.1" x2="533.36" y2="469.65" stroke-width="0.9"/>
<polygon points="535.73,471.63 536.25,471.92 536.78,472.21 537.34,472.52 537.97,472.69 538.67,472.6 539.38,472.41 540.09,471.97 540.76,471.42 541.4,470.89 542.03,470.38 542.66,469.86 543.3,469.33 543.97,468.78 544.6,468.11 545.08,467.31 545.5,466.48 545.74,465.6 545.85,464.74 545.96,463.91 546.07,463.11 546.18,462.3 546.29,461.48 546.41,460.62 546.4,459.78 546.18,459.08 545.89,458.43 545.42,457.99 544.86,457.68 544.33,457.39 543.81,457.1 543.29,456.81 542.76,456.51 542.21,456.2 541.58,456.03 540.88,456.13 540.16,456.32 539.45,456.75 538.78,457.31 538.14,457.83 537.51,458.35 536.89,458.87 536.24,459.4 535.57,459.95 534.95,460.61 534.47,461.41 534.04,462.25 533.81,463.13 533.69,463.99 533.58,464.81 533.47,465.62 533.37,466.42 533.26,467.25 533.14,468.11 533.14,468.94 533.36,469.65 533.65,470.29 534.13,470.74 534.68,471.05 535.21,471.34" stroke-width="1.1" fill="#fff"/>
<ellipse cx="539.77" cy="464.36" rx="5.22" ry="7.68" transform="rotate(29.07 539.77 464.36)" stroke-width="0.9" fill="none"/>
<path d="M435.47,382.62 L406.17,366.81 Q406.56,361.46 410.83,358.19 L440.13,374" stroke-width="1.5" fill="none"/>
<line x1="407.49" y1="367.52" x2="412.15" y2="358.9" stroke-width="0.8"/>
<polygon points="431.38,385.08 432.54,375.48 439.93,369.23 444.81,371.86 447.13,373.11 447.71,373.43 448.32,373.75 448.84,374.23 449.16,374.93 449.41,375.68 449.42,376.59 448.77,381.99 448.52,382.95 448.08,383.86 447.56,384.73 446.9,385.46 445.49,386.65 444.82,387.22 443.46,388.37 442.74,388.97 441.97,389.46 441.2,389.67 440.45,389.78 439.76,389.61 437.6,388.44" stroke-width="1.7" fill="#fff"/>
<line x1="437.6" y1="388.44" x2="441.2" y2="389.67" stroke-width="0.9"/>
<line x1="444.99" y1="382.19" x2="448.08" y2="383.86" stroke-width="0.9"/>
<line x1="446.16" y1="372.59" x2="449.16" y2="374.93" stroke-width="0.9"/>
<line x1="439.93" y1="369.23" x2="443.37" y2="371.8" stroke-width="0.9"/>
<line x1="432.54" y1="375.48" x2="436.5" y2="377.61" stroke-width="0.9"/>
<line x1="431.38" y1="385.08" x2="435.42" y2="386.54" stroke-width="0.9"/>
<polygon points="438.01,388.66 438.58,388.97 439.16,389.28 439.76,389.61 440.45,389.78 441.2,389.67 441.97,389.46 442.74,388.97 443.46,388.37 444.14,387.79 444.82,387.22 445.49,386.65 446.18,386.07 446.9,385.46 447.56,384.73 448.08,383.86 448.52,382.95 448.77,381.99 448.88,381.06 448.99,380.17 449.09,379.29 449.2,378.42 449.31,377.52 449.42,376.59 449.41,375.68 449.16,374.93 448.84,374.23 448.32,373.75 447.71,373.43 447.13,373.11 446.57,372.81 446,372.5 445.42,372.19 444.81,371.86 444.13,371.69 443.37,371.8 442.6,372.01 441.84,372.49 441.12,373.1 440.43,373.68 439.76,374.25 439.09,374.82 438.4,375.4 437.68,376.01 437.01,376.74 436.5,377.61 436.05,378.52 435.81,379.48 435.7,380.41 435.59,381.3 435.48,382.18 435.38,383.05 435.27,383.95 435.15,384.88 435.17,385.78 435.42,386.54 435.74,387.24 436.26,387.72 436.86,388.04 437.44,388.36" stroke-width="1.1" fill="#fff"/>
<ellipse cx="442.29" cy="380.73" rx="5.66" ry="8.32" transform="rotate(28.35 442.29 380.73)" stroke-width="0.9" fill="none"/>
<path d="M386.93,410.57 L357.62,394.28 Q358.08,388.93 362.38,385.72 L391.69,402" stroke-width="1.5" fill="none"/>
<line x1="358.93" y1="395.01" x2="363.69" y2="386.45" stroke-width="0.8"/>
<polygon points="382.81,412.98 384.09,403.39 391.56,397.23 397.01,400.26 399.89,401.86 400.4,402.34 400.72,403.04 400.95,403.8 400.96,404.7 400.83,405.64 400.6,407.4 400.24,410.1 399.98,411.06 399.52,411.96 399,412.82 398.32,413.54 396.9,414.71 394.85,416.41 394.12,417.01 393.35,417.48 392.58,417.68 391.82,417.79 391.14,417.6 390.54,417.27" stroke-width="1.7" fill="#fff"/>
<line x1="388.99" y1="416.41" x2="392.58" y2="417.68" stroke-width="0.9"/>
<line x1="396.46" y1="410.25" x2="399.52" y2="411.96" stroke-width="0.9"/>
<line x1="397.74" y1="400.66" x2="400.72" y2="403.04" stroke-width="0.9"/>
<line x1="391.56" y1="397.23" x2="394.97" y2="399.84" stroke-width="0.9"/>
<line x1="384.09" y1="403.39" x2="388.02" y2="405.57" stroke-width="0.9"/>
<line x1="382.81" y1="412.98" x2="386.83" y2="414.49" stroke-width="0.9"/>
<polygon points="389.4,416.64 389.96,416.95 390.54,417.27 391.14,417.6 391.82,417.79 392.58,417.68 393.35,417.48 394.12,417.01 394.85,416.41 395.54,415.84 396.22,415.28 396.9,414.71 397.6,414.14 398.32,413.54 399,412.82 399.52,411.96 399.98,411.06 400.24,410.1 400.36,409.17 400.48,408.27 400.6,407.4 400.71,406.53 400.83,405.64 400.96,404.7 400.95,403.8 400.72,403.04 400.4,402.34 399.89,401.86 399.28,401.52 398.71,401.2 398.15,400.89 397.58,400.58 397.01,400.26 396.41,399.92 395.73,399.74 394.97,399.84 394.19,400.05 393.42,400.52 392.7,401.12 392,401.69 391.32,402.25 390.64,402.81 389.95,403.38 389.22,403.98 388.55,404.7 388.02,405.57 387.56,406.47 387.31,407.42 387.19,408.36 387.07,409.25 386.95,410.12 386.83,411 386.71,411.89 386.59,412.82 386.59,413.73 386.83,414.49 387.14,415.19 387.66,415.67 388.26,416 388.84,416.32" stroke-width="1.1" fill="#fff"/>
<ellipse cx="393.77" cy="408.76" rx="5.66" ry="8.32" transform="rotate(29.05 393.77 408.76)" stroke-width="0.9" fill="none"/>
<path d="M137.8,374 L137.8,351.5 Q137.8,348 141,348.8 L155.5,357.5 Q157.7,359 157.7,362 L157.7,406" stroke-width="1.5" fill="#fff"/>
<line x1="141" y1="348.8" x2="155" y2="357.5" stroke-width="0.9"/>
<line x1="154.8" y1="362" x2="154.8" y2="406.5" stroke-width="1.0"/>
<path d="M154.8,362.7 L128,378.4 Q125.3,380.2 126.4,382.7 L129.8,389.6 A11,13 0 1 1 124.4,395.5 L120.8,388.4 Q118,388.5 115.5,390.8 Q111,395 111.3,402 Q111.5,412 116.5,421 Q121,427.5 128,428 Q133,428 138.5,424 L154,412.5 Q157.7,409.5 157.7,406" stroke-width="1.5" fill="#fff"/>
<path d="M115.5,390.8 Q113.8,392 113.5,394 Q111.6,406 115,415 Q118,422 124,426" stroke-width="0.8" fill="none"/>
<ellipse cx="134" cy="383.5" rx="1.6" ry="2.2" stroke-width="1.1" fill="none"/>
<ellipse cx="147.3" cy="384.4" rx="1.6" ry="2.2" stroke-width="1.1" fill="none"/>
<ellipse cx="121.2" cy="400.5" rx="1.6" ry="2.2" stroke-width="1.1" fill="none"/>
<ellipse cx="147.3" cy="401.4" rx="1.6" ry="2.2" stroke-width="1.1" fill="none"/>
<ellipse cx="120.8" cy="415.6" rx="1.6" ry="2.2" stroke-width="1.1" fill="none"/>
<ellipse cx="134" cy="417.5" rx="1.6" ry="2.2" stroke-width="1.1" fill="none"/>
<path d="M153.7,420.8 Q157,409 164.8,404.2 Q171,399 178.3,398.1 Q185.5,397.8 190.6,403.4 Q197,405.3 201.7,408.3 Q207,411.3 209.2,415.7 Q213.2,419 213.8,424 Q215.6,432 214.2,438.5 Q212.8,443.5 210.3,446.9 Q206.5,452.6 201.7,455.4 Q194,458.2 186.9,456.6 L183,455.6 L178.3,452.8 L168.5,450.6 L168.5,446.7 L153.7,444.2 Z" stroke-width="1.6" fill="#fff"/>
<line x1="153.7" y1="420.8" x2="170.9" y2="427.6" stroke-width="1.3"/>
<line x1="160" y1="423.2" x2="160" y2="445.2" stroke-width="0.7"/>
<path d="M169.7,427.2 C170.42,425.83 172.37,421.32 174,419 C175.63,416.68 176.73,415.18 179.5,413.3 C182.27,411.42 187.32,408.53 190.6,407.7 C193.88,406.87 196.95,407.37 199.2,408.3 C201.45,409.23 203.28,412.47 204.1,413.3" stroke-width="2.0" fill="none"/>
<path d="M180.8,428.2 C181.62,426.73 183.67,421.58 185.7,419.4 C187.73,417.22 190.33,415.92 193,415.1 C195.67,414.28 199.23,414.08 201.7,414.5 C204.17,414.92 206.27,416.03 207.8,417.6 C209.33,419.17 210.38,422.85 210.9,423.9" stroke-width="1.7" fill="none"/>
<path d="M190.6,424.3 C189.75,425.58 186.9,429.05 185.5,432 C184.1,434.95 182.53,439 182.2,442 C181.87,445 182.72,447.75 183.5,450 C184.28,452.25 186.33,454.58 186.9,455.5" stroke-width="1.0" fill="none"/>
<path d="M200.6,424 Q209.5,426 211.3,437 Q211.5,449 201,454.5 Z" stroke-width="0.1" fill="#e4e4e4"/>
<path d="M198.9,423.3 L198.9,453" stroke-width="2.6" fill="none"/>
<path d="M200.8,424 L200.8,452.5" stroke-width="1.2" fill="none" class="hd"/>
<path d="M169.7,429.6 L186.9,436.6 L186.9,444.5 L178.3,452.8" stroke-width="1.2" fill="none"/>
<path d="M169.7,429.6 L168.8,434 L186.9,441.2" stroke-width="1.0" fill="none"/>
<line x1="168.5" y1="446.7" x2="178.3" y2="450.5" stroke-width="0.9"/>
<polygon points="170.73,363.05 172.25,353.68 179.74,347.85 189.06,353.38 191.28,354.7 191.78,355.18 192.06,355.88 192.28,356.63 192.26,357.52 192.11,358.43 191.83,360.15 191.4,362.79 191.12,363.72 190.65,364.59 190.11,365.43 189.43,366.11 186.64,368.28 185.21,369.39 184.45,369.83 183.68,370.01 182.94,370.09 182.27,369.89 181.69,369.55 181.14,369.22 176.7,366.59" stroke-width="1.7" fill="#fff"/>
<line x1="176.7" y1="366.59" x2="183.68" y2="370.01" stroke-width="0.9"/>
<line x1="184.18" y1="360.76" x2="190.65" y2="364.59" stroke-width="0.9"/>
<line x1="185.71" y1="351.39" x2="192.06" y2="355.88" stroke-width="0.9"/>
<line x1="179.74" y1="347.85" x2="186.52" y2="352.59" stroke-width="0.9"/>
<line x1="172.25" y1="353.68" x2="179.55" y2="358.01" stroke-width="0.9"/>
<line x1="170.73" y1="363.05" x2="178.14" y2="366.72" stroke-width="0.9"/>
<polygon points="180.59,368.9 181.14,369.22 181.69,369.55 182.27,369.89 182.94,370.09 183.68,370.01 184.45,369.83 185.21,369.39 185.94,368.83 186.64,368.28 187.32,367.75 188,367.22 188.7,366.68 189.43,366.11 190.11,365.43 190.65,364.59 191.12,363.72 191.4,362.79 191.55,361.88 191.69,361.01 191.83,360.15 191.97,359.3 192.11,358.43 192.26,357.52 192.28,356.63 192.06,355.88 191.78,355.18 191.28,354.7 190.7,354.35 190.15,354.02 189.61,353.7 189.06,353.38 188.51,353.05 187.93,352.71 187.26,352.51 186.52,352.59 185.75,352.77 184.99,353.21 184.26,353.77 183.56,354.32 182.88,354.85 182.2,355.38 181.5,355.92 180.77,356.49 180.09,357.17 179.55,358.01 179.08,358.88 178.8,359.81 178.65,360.72 178.51,361.59 178.37,362.45 178.23,363.3 178.09,364.17 177.94,365.08 177.92,365.97 178.14,366.72 178.42,367.42 178.92,367.9 179.5,368.25 180.05,368.58" stroke-width="1.1" fill="#fff"/>
<ellipse cx="185.1" cy="361.3" rx="5.55" ry="8.16" transform="rotate(30.67 185.1 361.3)" stroke-width="0.9" fill="none"/>
<ellipse cx="185.1" cy="361.3" rx="3.61" ry="5.3" transform="rotate(30.67 185.1 361.3)" stroke-width="1.7" fill="none"/>
<ellipse cx="200.9" cy="371" rx="7.3" ry="9.8" stroke-width="1.1" fill="#fff" transform="rotate(22 200.9 371)"/>
<ellipse cx="202" cy="371.5" rx="7.3" ry="9.8" stroke-width="1.7" fill="#fff" transform="rotate(22 202 371.5)"/>
<ellipse cx="202.3" cy="371.8" rx="3.65" ry="4.9" stroke-width="1.5" fill="none" transform="rotate(22 202.3 371.8)"/>
<ellipse cx="202.3" cy="371.8" rx="4.96" ry="6.86" stroke-width="1.0" fill="none" transform="rotate(22 202.3 371.8)"/>
<line x1="196.53" y1="375.91" x2="198.72" y2="374.44" stroke-width="1.6"/>
<ellipse cx="218.1" cy="381.5" rx="7.8" ry="10.4" stroke-width="1.1" fill="#fff" transform="rotate(22 218.1 381.5)"/>
<ellipse cx="219.2" cy="382" rx="7.8" ry="10.4" stroke-width="1.7" fill="#fff" transform="rotate(22 219.2 382)"/>
<ellipse cx="219.5" cy="382.3" rx="3.28" ry="4.37" stroke-width="1.5" fill="none" transform="rotate(22 219.5 382.3)"/>
<ellipse cx="101.6" cy="403.2" rx="7" ry="8.8" stroke-width="1.1" fill="#fff" transform="rotate(10 101.6 403.2)"/>
<ellipse cx="102.7" cy="403.7" rx="7" ry="8.8" stroke-width="1.7" fill="#fff" transform="rotate(10 102.7 403.7)"/>
<ellipse cx="103" cy="404" rx="2.94" ry="3.7" stroke-width="1.5" fill="none" transform="rotate(10 103 404)"/>
<ellipse cx="90.2" cy="410.4" rx="6.2" ry="8" stroke-width="1.1" fill="#fff" transform="rotate(10 90.2 410.4)"/>
<ellipse cx="91.3" cy="410.9" rx="6.2" ry="8" stroke-width="1.7" fill="#fff" transform="rotate(10 91.3 410.9)"/>
<ellipse cx="91.6" cy="411.2" rx="3.1" ry="4" stroke-width="1.5" fill="none" transform="rotate(10 91.6 411.2)"/>
<ellipse cx="91.6" cy="411.2" rx="4.22" ry="5.6" stroke-width="1.0" fill="none" transform="rotate(10 91.6 411.2)"/>
<line x1="86.65" y1="414.5" x2="88.51" y2="413.3" stroke-width="1.6"/>
<polygon points="68.53,415.52 68.72,414.86 68.98,414.26 69.42,413.83 69.94,413.52 78.29,408.57 84.83,413.55 86.07,421.68 79.66,425.48 77.2,426.94 76.61,427.12 75.95,427.06 75.28,426.91 74.61,426.54 73.97,426.05 70.93,423.73 70.34,423.14 69.87,422.42 69.46,421.67 69.23,420.87 68.65,417.08 68.53,416.29" stroke-width="1.8" fill="#fff"/>
<line x1="72.99" y1="411.71" x2="68.72" y2="414.86" stroke-width="0.9"/>
<line x1="74.23" y1="419.84" x2="69.87" y2="422.42" stroke-width="0.9"/>
<line x1="80.77" y1="424.82" x2="75.95" y2="427.06" stroke-width="0.9"/>
<line x1="86.07" y1="421.68" x2="80.88" y2="424.14" stroke-width="0.9"/>
<line x1="84.83" y1="413.55" x2="79.73" y2="416.58" stroke-width="0.9"/>
<line x1="78.29" y1="408.57" x2="73.65" y2="411.94" stroke-width="0.9"/>
<polygon points="70.91,412.94 70.43,413.23 69.94,413.52 69.42,413.83 68.98,414.26 68.72,414.86 68.53,415.52 68.53,416.29 68.65,417.08 68.77,417.84 68.88,418.58 69,419.32 69.11,420.07 69.23,420.87 69.46,421.67 69.87,422.42 70.34,423.14 70.93,423.73 71.57,424.22 72.17,424.68 72.77,425.13 73.36,425.59 73.97,426.05 74.61,426.54 75.28,426.91 75.95,427.06 76.61,427.12 77.2,426.94 77.71,426.63 78.21,426.34 78.69,426.06 79.17,425.77 79.66,425.48 80.18,425.17 80.62,424.74 80.88,424.14 81.07,423.48 81.07,422.71 80.95,421.92 80.83,421.16 80.72,420.42 80.6,419.68 80.49,418.93 80.37,418.13 80.14,417.33 79.73,416.58 79.26,415.86 78.67,415.27 78.03,414.78 77.43,414.32 76.83,413.87 76.24,413.41 75.63,412.95 74.99,412.46 74.32,412.09 73.65,411.94 72.99,411.88 72.4,412.06 71.89,412.37 71.39,412.66" stroke-width="1.1" fill="#fff"/>
<ellipse cx="74.8" cy="419.5" rx="4.93" ry="7.04" transform="rotate(-210.67 74.8 419.5)" stroke-width="0.9" fill="none"/>
<ellipse cx="74.8" cy="419.5" rx="2.59" ry="3.7" transform="rotate(-210.67 74.8 419.5)" stroke-width="1.7" fill="none"/>
<path d="M240.7,393.6 L228.3,400.3 Q225.8,402 226.8,405.5 Q228.5,409.5 232.3,408.8 L245.3,401.5" stroke-width="1.6" fill="#fff"/>
<path d="M228.3,400.3 Q231.5,401 232.3,408.8" stroke-width="1.0" fill="none"/>
<line x1="235" y1="399" x2="238" y2="405" stroke-width="0.6" class="dd"/>
<polygon points="240.79,391.41 248.92,387.15 249.39,387.05 249.9,387.16 250.43,387.34 250.96,387.71 251.46,388.17 252.87,389.48 253.85,390.38 254.32,390.92 254.68,391.57 255,392.23 255.19,392.93 255.46,394.88 255.73,396.83 255.73,397.47 255.58,398.01 255.37,398.49 255.03,398.82 254.62,399.03 252.68,400.05 246.89,403.07 241.75,398.33" stroke-width="1.8" fill="#fff"/>
<line x1="251.07" y1="400.89" x2="255.58" y2="398.01" stroke-width="0.9"/>
<line x1="250.1" y1="393.97" x2="254.68" y2="391.57" stroke-width="0.9"/>
<line x1="244.96" y1="389.23" x2="249.9" y2="387.16" stroke-width="0.9"/>
<line x1="240.79" y1="391.41" x2="246.02" y2="389.19" stroke-width="0.9"/>
<line x1="241.75" y1="398.33" x2="246.92" y2="395.63" stroke-width="0.9"/>
<line x1="246.89" y1="403.07" x2="251.7" y2="400.04" stroke-width="0.9"/>
<polygon points="253.85,399.43 254.23,399.23 254.62,399.03 255.03,398.82 255.37,398.49 255.58,398.01 255.73,397.47 255.73,396.83 255.63,396.15 255.54,395.51 255.46,394.88 255.37,394.25 255.28,393.6 255.19,392.93 255,392.23 254.68,391.57 254.32,390.92 253.85,390.38 253.35,389.92 252.87,389.48 252.41,389.05 251.94,388.61 251.46,388.17 250.96,387.71 250.43,387.34 249.9,387.16 249.39,387.05 248.92,387.15 248.52,387.37 248.13,387.57 247.75,387.77 247.37,387.97 246.98,388.17 246.57,388.38 246.23,388.71 246.02,389.19 245.87,389.73 245.87,390.37 245.97,391.05 246.06,391.69 246.14,392.32 246.23,392.95 246.32,393.6 246.41,394.27 246.6,394.97 246.92,395.63 247.28,396.28 247.75,396.82 248.25,397.28 248.73,397.72 249.19,398.15 249.66,398.59 250.14,399.03 250.64,399.49 251.17,399.86 251.7,400.04 252.21,400.15 252.68,400.05 253.08,399.83 253.47,399.63" stroke-width="1.1" fill="#fff"/>
<ellipse cx="250.8" cy="393.6" rx="3.77" ry="6.08" transform="rotate(-27.62 250.8 393.6)" stroke-width="0.9" fill="none"/>
<ellipse cx="243.2" cy="396.6" rx="3.2" ry="7.2" stroke-width="2.2" fill="#fff" transform="rotate(28 243.2 396.6)"/>
<polygon points="91.91,88.87 93.86,88.87 93.86,99.6 91.91,99.6 91.91,90.62 89.48,92.15 89.48,90.58" fill="#111" style="stroke:#111;stroke-width:0.7"/>
<text transform="translate(100.66 99.6) scale(1 1.07)" font-size="14.6" text-anchor="middle" style="stroke:#111;stroke-width:0.35">5</text>
<line x1="84" y1="101.7" x2="107.2" y2="101.7" stroke-width="1.9"/>
<line x1="84" y1="117" x2="107.2" y2="117" stroke-width="1.9"/>
<line x1="84" y1="132.6" x2="107.2" y2="132.6" stroke-width="1.9"/>
<line x1="84" y1="148" x2="107.2" y2="148" stroke-width="1.9"/>
<line x1="106.5" y1="101.7" x2="106.5" y2="148" stroke-width="1.9"/>
<text transform="translate(96.6 114.7) scale(1 1.07)" font-size="14.6" text-anchor="middle" style="stroke:#111;stroke-width:0.35">9</text>
<polygon points="91.91,119.57 93.86,119.57 93.86,130.3 91.91,130.3 91.91,121.32 89.48,122.85 89.48,121.28" fill="#111" style="stroke:#111;stroke-width:0.7"/>
<text transform="translate(100.66 130.3) scale(1 1.07)" font-size="14.6" text-anchor="middle" style="stroke:#111;stroke-width:0.35">2</text>
<text transform="translate(96.6 145.7) scale(1 1.07)" font-size="14.6" text-anchor="middle" style="stroke:#111;stroke-width:0.35">6</text>
<line x1="106.5" y1="148" x2="119.5" y2="157.5" stroke-width="1.1"/>
<polygon points="195.31,45.77 197.26,45.77 197.26,56.5 195.31,56.5 195.31,47.52 192.88,49.05 192.88,47.48" fill="#111" style="stroke:#111;stroke-width:0.7"/>
<text transform="translate(204.06 56.5) scale(1 1.07)" font-size="14.6" text-anchor="middle" style="stroke:#111;stroke-width:0.35">5</text>
<line x1="188" y1="59" x2="211.5" y2="59" stroke-width="1.9"/>
<line x1="188" y1="74.6" x2="211.5" y2="74.6" stroke-width="1.9"/>
<line x1="188" y1="90" x2="211.5" y2="90" stroke-width="1.9"/>
<line x1="188" y1="104.8" x2="211.5" y2="104.8" stroke-width="1.9"/>
<line x1="211" y1="59" x2="211" y2="104.8" stroke-width="1.9"/>
<text transform="translate(200 72.3) scale(1 1.07)" font-size="14.6" text-anchor="middle" style="stroke:#111;stroke-width:0.35">9</text>
<polygon points="195.31,76.97 197.26,76.97 197.26,87.7 195.31,87.7 195.31,78.72 192.88,80.25 192.88,78.68" fill="#111" style="stroke:#111;stroke-width:0.7"/>
<text transform="translate(204.06 87.7) scale(1 1.07)" font-size="14.6" text-anchor="middle" style="stroke:#111;stroke-width:0.35">2</text>
<text transform="translate(200 102.5) scale(1 1.07)" font-size="14.6" text-anchor="middle" style="stroke:#111;stroke-width:0.35">6</text>
<line x1="211" y1="104.8" x2="222" y2="113.5" stroke-width="1.1"/>
<text transform="translate(276.4 404.2) scale(1 1.07)" font-size="14.6" text-anchor="middle" style="stroke:#111;stroke-width:0.35">5</text>
<line x1="263.6" y1="407" x2="288" y2="407" stroke-width="1.9"/>
<line x1="263.6" y1="422.8" x2="288" y2="422.8" stroke-width="1.9"/>
<line x1="263.6" y1="437.9" x2="288" y2="437.9" stroke-width="1.9"/>
<line x1="263.6" y1="452.7" x2="288" y2="452.7" stroke-width="1.9"/>
<line x1="263.6" y1="407" x2="263.6" y2="452.7" stroke-width="1.9"/>
<polygon points="271.71,409.77 273.66,409.77 273.66,420.5 271.71,420.5 271.71,411.52 269.28,413.05 269.28,411.48" fill="#111" style="stroke:#111;stroke-width:0.7"/>
<text transform="translate(280.46 420.5) scale(1 1.07)" font-size="14.6" text-anchor="middle" style="stroke:#111;stroke-width:0.35">2</text>
<text transform="translate(276.4 435.6) scale(1 1.07)" font-size="14.6" text-anchor="middle" style="stroke:#111;stroke-width:0.35">9</text>
<polygon points="271.71,439.67 273.66,439.67 273.66,450.4 271.71,450.4 271.71,441.42 269.28,442.95 269.28,441.38" fill="#111" style="stroke:#111;stroke-width:0.7"/>
<text transform="translate(280.46 450.4) scale(1 1.07)" font-size="14.6" text-anchor="middle" style="stroke:#111;stroke-width:0.35">5</text>
<line x1="263.6" y1="407" x2="254.2" y2="398.4" stroke-width="1.1"/>
<text transform="translate(438 431) scale(1 1.07)" font-size="14.6" text-anchor="middle" style="stroke:#111;stroke-width:0.35">8</text>
<line x1="426.4" y1="435.2" x2="448.6" y2="435.2" stroke-width="1.9"/>
<line x1="426.4" y1="450" x2="448.6" y2="450" stroke-width="1.9"/>
<line x1="426.4" y1="465" x2="448.6" y2="465" stroke-width="1.9"/>
<line x1="426.4" y1="480.7" x2="448.6" y2="480.7" stroke-width="1.9"/>
<line x1="426.4" y1="435.2" x2="426.4" y2="480.7" stroke-width="1.9"/>
<polygon points="433.31,436.97 435.26,436.97 435.26,447.7 433.31,447.7 433.31,438.72 430.88,440.25 430.88,438.68" fill="#111" style="stroke:#111;stroke-width:0.7"/>
<text transform="translate(442.06 447.7) scale(1 1.07)" font-size="14.6" text-anchor="middle" style="stroke:#111;stroke-width:0.35">4</text>
<polygon points="433.31,451.97 435.26,451.97 435.26,462.7 433.31,462.7 433.31,453.72 430.88,455.25 430.88,453.68" fill="#111" style="stroke:#111;stroke-width:0.7"/>
<polygon points="441.43,451.97 443.37,451.97 443.37,462.7 441.43,462.7 441.43,453.72 438.99,455.25 438.99,453.68" fill="#111" style="stroke:#111;stroke-width:0.7"/>
<polygon points="433.31,467.67 435.26,467.67 435.26,478.4 433.31,478.4 433.31,469.42 430.88,470.95 430.88,469.38" fill="#111" style="stroke:#111;stroke-width:0.7"/>
<text transform="translate(442.06 478.4) scale(1 1.07)" font-size="14.6" text-anchor="middle" style="stroke:#111;stroke-width:0.35">7</text>
<line x1="426.4" y1="435.2" x2="437.7" y2="389.3" stroke-width="1.1"/>
<line x1="426.4" y1="435.2" x2="393.4" y2="416.6" stroke-width="1.1"/>
<text transform="translate(649 448) scale(1 1.07)" font-size="14.6" text-anchor="middle" style="stroke:#111;stroke-width:0.35">7</text>
<line x1="636.5" y1="450.4" x2="659.2" y2="450.4" stroke-width="1.9"/>
<line x1="636.5" y1="465.5" x2="659.2" y2="465.5" stroke-width="1.9"/>
<line x1="636.5" y1="480.6" x2="659.2" y2="480.6" stroke-width="1.9"/>
<line x1="636.5" y1="495.7" x2="659.2" y2="495.7" stroke-width="1.9"/>
<line x1="636.5" y1="511.9" x2="659.2" y2="511.9" stroke-width="1.9"/>
<line x1="636.5" y1="450.4" x2="636.5" y2="511.9" stroke-width="1.9"/>
<polygon points="644.31,452.47 646.26,452.47 646.26,463.2 644.31,463.2 644.31,454.22 641.88,455.75 641.88,454.18" fill="#111" style="stroke:#111;stroke-width:0.7"/>
<text transform="translate(653.06 463.2) scale(1 1.07)" font-size="14.6" text-anchor="middle" style="stroke:#111;stroke-width:0.35">3</text>
<polygon points="644.31,467.57 646.26,467.57 646.26,478.3 644.31,478.3 644.31,469.32 641.88,470.85 641.88,469.28" fill="#111" style="stroke:#111;stroke-width:0.7"/>
<text transform="translate(653.06 478.3) scale(1 1.07)" font-size="14.6" text-anchor="middle" style="stroke:#111;stroke-width:0.35">3</text>
<polygon points="644.31,482.67 646.26,482.67 646.26,493.4 644.31,493.4 644.31,484.42 641.88,485.95 641.88,484.38" fill="#111" style="stroke:#111;stroke-width:0.7"/>
<text transform="translate(653.06 493.4) scale(1 1.07)" font-size="14.6" text-anchor="middle" style="stroke:#111;stroke-width:0.35">0</text>
<polygon points="644.31,498.87 646.26,498.87 646.26,509.6 644.31,509.6 644.31,500.62 641.88,502.15 641.88,500.58" fill="#111" style="stroke:#111;stroke-width:0.7"/>
<text transform="translate(653.06 509.6) scale(1 1.07)" font-size="14.6" text-anchor="middle" style="stroke:#111;stroke-width:0.35">6</text>
<line x1="636.5" y1="449.6" x2="620.9" y2="392" stroke-width="1.1"/>
<line x1="636.5" y1="449.6" x2="614.6" y2="427.7" stroke-width="1.1"/>
<line x1="636.5" y1="449.6" x2="546.6" y2="427.7" stroke-width="1.1"/>
<line x1="636.5" y1="449.6" x2="545.3" y2="456.4" stroke-width="1.1"/>
<polygon points="345.27,151.07 347.21,151.07 347.21,161.8 345.27,161.8 345.27,152.82 342.83,154.35 342.83,152.78" fill="#111" style="stroke:#111;stroke-width:0.7"/>
<line x1="333" y1="164.7" x2="357.4" y2="164.7" stroke-width="1.9"/>
<line x1="333" y1="164.7" x2="326" y2="173" stroke-width="1.1"/>
<text transform="translate(275.3 114.5) scale(1 1.07)" font-size="14.6" text-anchor="middle" style="stroke:#111;stroke-width:0.35">4</text>
<line x1="263.9" y1="116.5" x2="286.7" y2="116.5" stroke-width="1.9"/>
<line x1="263.9" y1="116.5" x2="253.2" y2="131.2" stroke-width="1.1"/>
<text transform="translate(322.8 407.6) scale(1 1.07)" font-size="14.6" text-anchor="middle" style="stroke:#111;stroke-width:0.35">2</text>
<line x1="311" y1="410.6" x2="334" y2="410.6" stroke-width="1.9"/>
<line x1="334" y1="410.6" x2="340.6" y2="387.2" stroke-width="1.1"/>
<text transform="translate(111 444.7) scale(1 1.07)" font-size="14.6" text-anchor="middle" style="stroke:#111;stroke-width:0.35">3</text>
<line x1="99" y1="446.8" x2="121.7" y2="446.8" stroke-width="1.9"/>
<line x1="121.7" y1="446.8" x2="131" y2="428.7" stroke-width="1.1"/>
</svg>
</body></html>
